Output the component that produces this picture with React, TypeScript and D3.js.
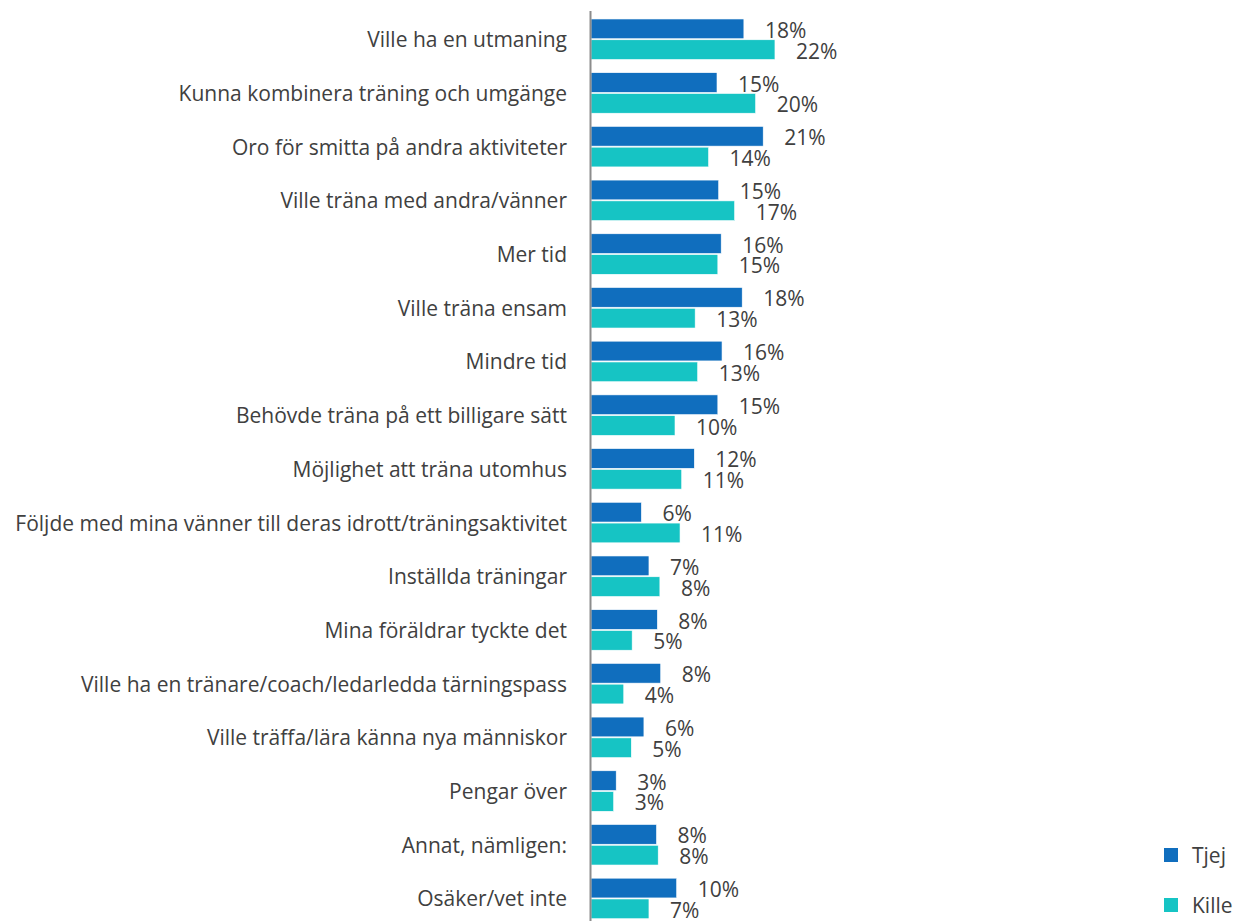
import React from "react";
import * as d3 from "d3";

const categories = [
  "Ville ha en utmaning",
  "Kunna kombinera träning och umgänge",
  "Oro för smitta på andra aktiviteter",
  "Ville träna med andra/vänner",
  "Mer tid",
  "Ville träna ensam",
  "Mindre tid",
  "Behövde träna på ett billigare sätt",
  "Möjlighet att träna utomhus",
  "Följde med mina vänner till deras idrott/träningsaktivitet",
  "Inställda träningar",
  "Mina föräldrar tyckte det",
  "Ville ha en tränare/coach/ledarledda tärningspass",
  "Ville träffa/lära känna nya människor",
  "Pengar över",
  "Annat, nämligen:",
  "Osäker/vet inte",
];

const tjej = [18.2, 15.0, 20.5, 15.2, 15.5, 18.0, 15.6, 15.1, 12.3, 6.0, 6.9, 7.9, 8.3, 6.3, 3.0, 7.8, 10.2];
const kille = [21.9, 19.6, 14.0, 17.1, 15.1, 12.4, 12.7, 10.0, 10.8, 10.6, 8.2, 4.9, 3.9, 4.8, 2.7, 8.0, 6.9];
const labelsTjej = ["18%", "15%", "21%", "15%", "16%", "18%", "16%", "15%", "12%", "6%", "7%", "8%", "8%", "6%", "3%", "8%", "10%"];
const labelsKille = ["22%", "20%", "14%", "17%", "15%", "13%", "13%", "10%", "11%", "11%", "8%", "5%", "4%", "5%", "3%", "8%", "7%"];

const seriesNames = ["Tjej", "Kille"];
const colors = ["#106EBE", "#16C4C4"];

export default function App() {
  const W = 1238;
  const H = 921;
  const axisX = 590.5;
  const step = 53.7;
  const top = 12.4;
  const y = d3
    .scaleBand<string>()
    .domain(categories)
    .range([top, top + categories.length * step])
    .paddingInner(0.245)
    .paddingOuter(0.1225);
  const inner = d3.scaleBand<string>().domain(seriesNames).range([0, y.bandwidth()]).paddingInner(0.05);
  const x = d3.scaleLinear().domain([0, 22]).range([591, 591 + 22 * 8.4]);
  const font = "'Open Sans', sans-serif";
  const textColor = "#404040";
  const fs = 21;
  const data = [tjej, kille];
  const labels = [labelsTjej, labelsKille];

  return (
    <svg
      width={W}
      height={H}
      style={{ position: "absolute", left: 0, top: 0, background: "#fff" }}
      fontFamily={font}
    >
      {categories.map((c, i) => {
        const gy = y(c)!;
        return (
          <g key={c}>
            <text
              x={567}
              y={gy + y.bandwidth() / 2}
              textAnchor="end"
              dominantBaseline="central"
              fontSize={fs}
              fill={textColor}
            >
              {c}
            </text>
            {seriesNames.map((s, k) => {
              const by = gy + inner(s)!;
              const v = data[k][i];
              return (
                <g key={s}>
                  <rect
                    x={x(0)}
                    y={by}
                    width={x(v) - x(0)}
                    height={inner.bandwidth()}
                    fill={colors[k]}
                    stroke="#ffffff"
                    strokeWidth={0.6}
                  />
                  <text
                    x={x(v) + 21}
                    y={by + inner.bandwidth() / 2 + 1}
                    dominantBaseline="central"
                    fontSize={fs}
                    fill={textColor}
                  >
                    {labels[k][i]}
                  </text>
                </g>
              );
            })}
          </g>
        );
      })}
      <line x1={axisX} x2={axisX} y1={11} y2={H} stroke="#8c8c8c" strokeWidth={2} />
      {seriesNames.map((s, k) => (
        <g key={s}>
          <rect x={1164} y={848 + k * 50} width={14} height={14} fill={colors[k]} />
          <text x={1192} y={855 + k * 50} dominantBaseline="central" fontSize={fs} fill={textColor}>
            {s}
          </text>
        </g>
      ))}
    </svg>
  );
}
